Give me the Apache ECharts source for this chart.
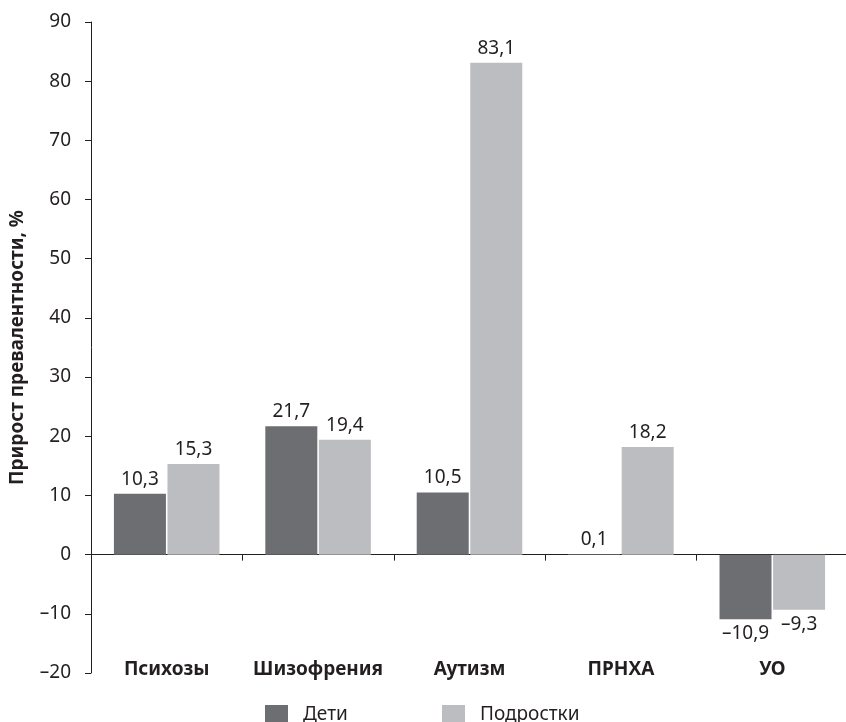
<!DOCTYPE html>
<html>
<head>
<meta charset="utf-8">
<script src="https://cdn.jsdelivr.net/npm/echarts@6/dist/echarts.min.js"></script>
<style>
html,body{margin:0;padding:0;background:#fff;}
#c{width:846px;height:722px;}
</style>
</head>
<body>
<div id="c"></div>
<script>
var categories = ['Психозы', 'Шизофрения', 'Аутизм', 'ПРНХА', 'УО'];
var children = [10.3, 21.7, 10.5, 0.1, -10.9];
var teens = [15.3, 19.4, 83.1, 18.2, -9.3];
var yTicks = {min: -20, max: 90, interval: 10};
var seriesNames = ['Дети', 'Подростки'];

var FONT = 'Noto Sans';
var TXT = '#231f20';
var FS = 19;

function fmt(v) {
  var s = String(v).replace('.', ',');
  return s.replace('-', '\u2013');
}
function items(arr) {
  return arr.map(function (v) {
    return {
      value: v,
      label: {position: v < 0 ? 'bottom' : 'top'}
    };
  });
}

var chart = echarts.init(document.getElementById('c'), null, {renderer: 'canvas'});
chart.setOption({
  animation: false,
  backgroundColor: '#fff',
  textStyle: {fontFamily: FONT},
  grid: {left: 91, top: 22, width: 757, height: 651, containLabel: false, outerBoundsMode: 'none'},
  legend: [
    {
      data: [seriesNames[0]], left: 260, top: 700, itemWidth: 23, itemHeight: 20,
      icon: 'rect', itemGap: 0,
      textStyle: {fontFamily: FONT, fontSize: FS, color: TXT, padding: [0, 0, 0, 10]}
    },
    {
      data: [seriesNames[1]], left: 437, top: 700, itemWidth: 23, itemHeight: 20,
      icon: 'rect', itemGap: 0,
      textStyle: {fontFamily: FONT, fontSize: FS, color: TXT, padding: [0, 0, 0, 10]}
    }
  ],
  xAxis: [
    {
      type: 'category',
      data: categories,
      axisLine: {onZero: true, lineStyle: {color: TXT, width: 1}},
      axisTick: {show: true, length: 6, alignWithLabel: false, lineStyle: {color: TXT}},
      axisLabel: {show: false},
      splitLine: {show: false}
    },
    {
      type: 'category',
      data: categories,
      position: 'bottom',
      axisLine: {show: false, onZero: false},
      axisTick: {show: false},
      axisLabel: {
        interval: 0, hideOverlap: false,
        margin: -13, fontFamily: FONT, fontSize: FS, fontWeight: 'bold', color: TXT
      },
      splitLine: {show: false}
    }
  ],
  yAxis: {
    type: 'value',
    min: yTicks.min, max: yTicks.max, interval: yTicks.interval,
    name: 'Прирост превалентности, %',
    nameLocation: 'middle',
    nameGap: 64,
    nameTextStyle: {fontFamily: FONT, fontSize: FS, fontWeight: 'bold', color: TXT},
    axisLine: {show: true, lineStyle: {color: TXT, width: 1}},
    axisTick: {show: true, length: 6, lineStyle: {color: TXT}},
    axisLabel: {
      margin: 20, fontFamily: FONT, fontSize: FS, color: TXT,
      formatter: function (v) { return fmt(v); }
    },
    splitLine: {show: false}
  },
  series: [
    {
      name: seriesNames[0], type: 'bar', data: items(children),
      barWidth: 52, barGap: '3%',
      itemStyle: {color: '#6d6e71'},
      label: {
        show: true, distance: 5, fontFamily: FONT, fontSize: FS, color: TXT,
        formatter: function (p) { return fmt(p.value); }
      }
    },
    {
      name: seriesNames[1], type: 'bar', data: items(teens),
      barWidth: 52, barGap: '3%',
      itemStyle: {color: '#bcbdc0'},
      label: {
        show: true, distance: 5, fontFamily: FONT, fontSize: FS, color: TXT,
        formatter: function (p) { return fmt(p.value); }
      }
    }
  ]
});
</script>
</body>
</html>
